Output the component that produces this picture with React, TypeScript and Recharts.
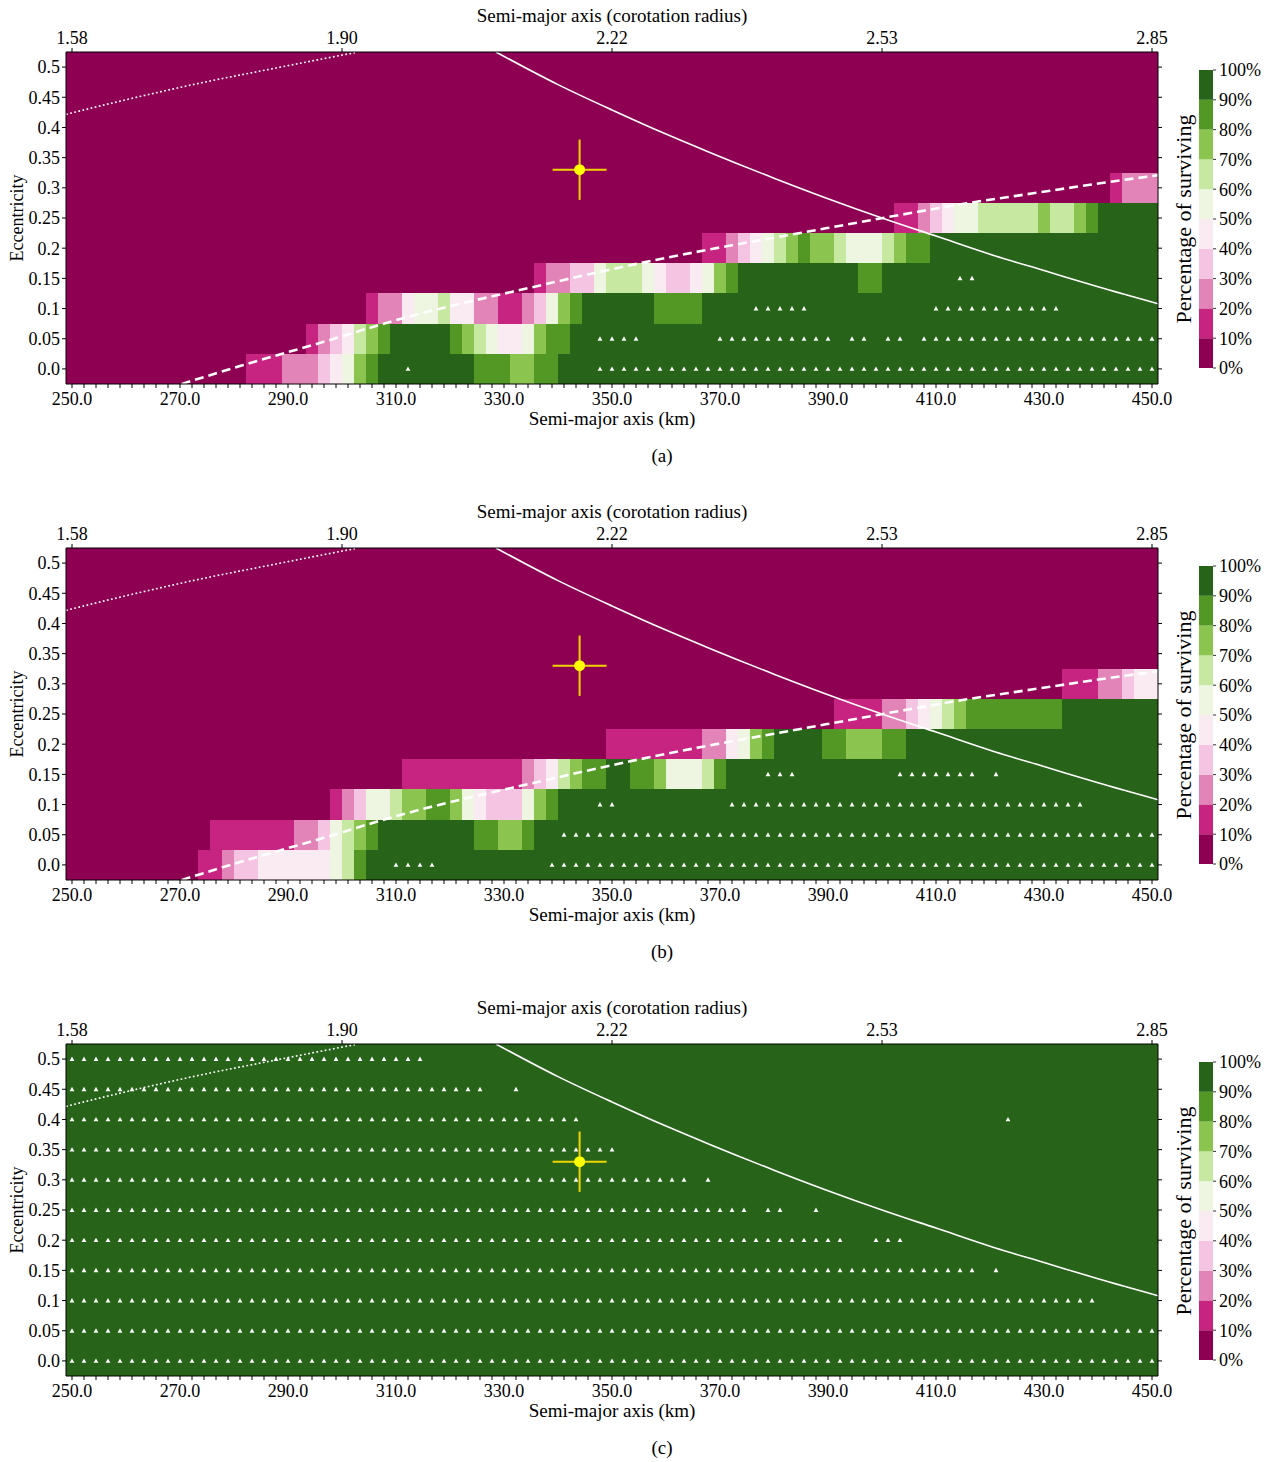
import React from 'react';
import {
  ComposedChart,
  XAxis,
  YAxis,
  ReferenceArea,
  Line,
  Scatter,
  ErrorBar,
  BarChart,
  Bar,
} from 'recharts';

const FONT = '"Liberation Serif", "Times New Roman", serif';

// ---- colour levels (0-10%, 10-20%, ... 90-100%) ----
const LEVEL_COLORS = [
  '#8e0152', '#c72482', '#e284b7', '#f5c4e2', '#faeaf2',
  '#eef6e2', '#c7e8a0', '#8cc450', '#539724', '#276419',
];
const COLORBAR_TICKS = [0, 10, 20, 30, 40, 50, 60, 70, 80, 90, 100];
const COLORBAR_LABELS = ['0%', '10%', '20%', '30%', '40%', '50%', '60%', '70%', '80%', '90%', '100%'];

// ---- grid ----
const A_FIRST = 250;
const A_LAST = 450;
const N_COLS = 91;
const ECC_ROWS = [0, 0.05, 0.1, 0.15, 0.2, 0.25, 0.3, 0.35, 0.4, 0.45, 0.5];
const ECC_LABELS = ['0.0', '0.05', '0.1', '0.15', '0.2', '0.25', '0.3', '0.35', '0.4', '0.45', '0.5'];
const ECC_HALF = 0.025;

const BOTTOM_TICK_VALUES = [250, 270, 290, 310, 330, 350, 370, 390, 410, 430, 450];
const BOTTOM_TICK_LABELS = ['250.0', '270.0', '290.0', '310.0', '330.0', '350.0', '370.0', '390.0', '410.0', '430.0', '450.0'];
const TOP_TICK_VALUES = [250, 300, 350, 400, 450];
const TOP_TICK_LABELS = ['1.58', '1.90', '2.22', '2.53', '2.85'];

// ---- cell levels, run-length per eccentricity row (bottom row first): [level, number of columns] ----
const PANEL_A_RUNS: number[][][] = [
  [[0, 15], [1, 3], [2, 3], [3, 1], [4, 1], [5, 1], [7, 1], [8, 1], [9, 8], [8, 3], [7, 2], [8, 2], [9, 50]],
  [[0, 20], [1, 1], [2, 1], [3, 1], [4, 1], [6, 1], [7, 1], [8, 1], [9, 5], [8, 1], [7, 1], [6, 1], [5, 1], [4, 2], [5, 1], [7, 1], [8, 2], [9, 49]],
  [[0, 25], [1, 1], [2, 2], [4, 1], [5, 2], [6, 1], [4, 2], [2, 2], [1, 2], [2, 1], [3, 1], [5, 1], [7, 1], [8, 1], [9, 6], [8, 4], [9, 38]],
  [[0, 39], [1, 1], [2, 2], [3, 2], [5, 1], [6, 3], [5, 1], [4, 1], [3, 2], [4, 1], [5, 1], [7, 1], [8, 1], [9, 10], [8, 2], [9, 23]],
  [[0, 53], [1, 2], [2, 1], [3, 1], [4, 1], [5, 1], [6, 1], [7, 1], [8, 1], [7, 2], [6, 1], [5, 3], [6, 1], [7, 1], [8, 2], [9, 19]],
  [[0, 69], [1, 2], [2, 1], [3, 1], [4, 1], [5, 2], [6, 5], [7, 1], [6, 2], [7, 1], [8, 1], [9, 5]],
  [[0, 87], [1, 1], [2, 3]],
  [[0, 91]],
  [[0, 91]],
  [[0, 91]],
  [[0, 91]],
];

const PANEL_B_RUNS: number[][][] = [
  [[0, 11], [1, 2], [2, 1], [3, 2], [4, 6], [5, 1], [6, 1], [8, 1], [9, 66]],
  [[0, 12], [1, 7], [2, 2], [3, 1], [5, 1], [6, 1], [7, 1], [8, 1], [9, 8], [8, 2], [7, 2], [8, 1], [9, 52]],
  [[0, 22], [1, 1], [2, 1], [3, 1], [5, 2], [6, 1], [7, 2], [8, 2], [7, 1], [5, 1], [4, 1], [3, 3], [5, 1], [7, 1], [8, 1], [9, 50]],
  [[0, 28], [1, 10], [2, 1], [3, 1], [4, 1], [6, 1], [7, 1], [8, 2], [9, 2], [8, 2], [7, 1], [5, 3], [6, 1], [8, 1], [9, 36]],
  [[0, 45], [1, 8], [2, 2], [4, 1], [5, 1], [7, 1], [8, 1], [9, 4], [8, 2], [7, 3], [8, 2], [9, 21]],
  [[0, 64], [1, 4], [2, 2], [3, 1], [4, 1], [5, 1], [6, 1], [7, 1], [8, 8], [9, 8]],
  [[0, 83], [1, 3], [2, 2], [3, 1], [4, 2]],
  [[0, 91]],
  [[0, 91]],
  [[0, 91]],
  [[0, 91]],
];

const PANEL_C_RUNS: number[][][] = [
  [[9, 91]], [[9, 91]], [[9, 91]], [[9, 91]], [[9, 91]], [[9, 91]],
  [[9, 91]], [[9, 91]], [[9, 91]], [[9, 91]], [[9, 91]],
];

// ---- triangle markers: column ranges per row (bottom row first) ----
const PANEL_A_TRI = ['28,44-90', '44-47,54-63,65-66,68-69,71-90', '57-61,72-82', '74-75', '', '', '', '', '', '', ''];
const PANEL_B_TRI = ['27-30,40-90', '41-90', '44-45,55-84', '58-60,69-75,77', '', '', '', '', '', '', ''];
const PANEL_C_TRI = ['0-90', '0-90', '0-85', '0-75,77', '0-64,67-69', '0-56,58-59,62', '0-51,53', '0-45', '0-42,78', '0-34,37', '0-29'];

// ---- curves (semi-major axis km, eccentricity) ----
const SOLID_CURVE = [
  { a: 328.5, e: 0.525 }, { a: 340, e: 0.471 }, { a: 350, e: 0.429 }, { a: 360, e: 0.389 },
  { a: 368, e: 0.359 }, { a: 380, e: 0.316 }, { a: 390, e: 0.282 }, { a: 400, e: 0.25 },
  { a: 410, e: 0.22 }, { a: 421, e: 0.187 }, { a: 430, e: 0.163 }, { a: 440, e: 0.136 },
  { a: 451.1, e: 0.108 },
];
const DASHED_CURVE = [
  { a: 270.3, e: -0.025 }, { a: 281.4, e: 0.0055 }, { a: 297.8, e: 0.048 }, { a: 308, e: 0.0757 },
  { a: 337, e: 0.139 }, { a: 354.6, e: 0.174 }, { a: 368.1, e: 0.198 }, { a: 382.9, e: 0.222 },
  { a: 403.3, e: 0.255 }, { a: 415.7, e: 0.2743 }, { a: 428, e: 0.2909 }, { a: 440.4, e: 0.3075 },
  { a: 451.2, e: 0.321 },
];
const DOTTED_CURVE = [
  { a: 248.9, e: 0.4217 }, { a: 261, e: 0.448 }, { a: 274, e: 0.474 }, { a: 287.5, e: 0.498 },
  { a: 302.4, e: 0.524 },
];
const MARKER = [{ a: 344, e: 0.33, ea: 5, ee: 0.05 }];

// ---- helpers ----
const COL_STEP = (A_LAST - A_FIRST) / (N_COLS - 1);
const colCenter = (i: number) => A_FIRST + i * COL_STEP;
const colEdge = (i: number) => A_FIRST + (i - 0.5) * COL_STEP;
const CELL_CENTERS = Array.from({ length: N_COLS }, (_, i) => colCenter(i));
const X_DOMAIN = [colEdge(0), colEdge(N_COLS)];
const Y_DOMAIN = [ECC_ROWS[0] - ECC_HALF, ECC_ROWS[ECC_ROWS.length - 1] + ECC_HALF];

function parseRanges(s: string): number[] {
  if (!s) return [];
  const out: number[] = [];
  s.split(',').forEach((part) => {
    const [p, q] = part.split('-').map(Number);
    const end = q === undefined || isNaN(q) ? p : q;
    for (let i = p; i <= end; i++) out.push(i);
  });
  return out;
}

function buildCells(runs: number[][][]) {
  const cells: { x1: number; x2: number; y1: number; y2: number; fill: string }[] = [];
  runs.forEach((row, r) => {
    let col = 0;
    row.forEach(([lvl, n]) => {
      cells.push({
        x1: colEdge(col),
        x2: colEdge(col + n),
        y1: ECC_ROWS[r] - ECC_HALF,
        y2: ECC_ROWS[r] + ECC_HALF,
        fill: LEVEL_COLORS[lvl],
      });
      col += n;
    });
  });
  return cells;
}

function buildTriangles(tri: string[]) {
  const pts: { a: number; e: number }[] = [];
  tri.forEach((s, r) => {
    parseRanges(s).forEach((c) => pts.push({ a: colCenter(c), e: ECC_ROWS[r] }));
  });
  return pts;
}

const bottomFmt = (v: number) => {
  const k = BOTTOM_TICK_VALUES.findIndex((t) => Math.abs(t - v) < 0.01);
  return k >= 0 ? BOTTOM_TICK_LABELS[k] : '';
};
const topFmt = (v: number) => {
  const k = TOP_TICK_VALUES.findIndex((t) => Math.abs(t - v) < 0.01);
  return k >= 0 ? TOP_TICK_LABELS[k] : '';
};
const eccFmt = (v: number) => {
  const k = ECC_ROWS.findIndex((t) => Math.abs(t - v) < 1e-6);
  return k >= 0 ? ECC_LABELS[k] : '';
};

const TriangleShape = (props: any) => {
  const { cx, cy } = props;
  if (cx == null || cy == null) return null;
  return <path d={`M${cx},${cy - 2.5} L${cx + 2.4},${cy + 1.9} L${cx - 2.4},${cy + 1.9} Z`} fill="#ffffff" />;
};
const MarkerShape = (props: any) => {
  const { cx, cy } = props;
  if (cx == null || cy == null) return null;
  return <circle cx={cx} cy={cy} r={5.5} fill="#ffff00" />;
};

const Txt = ({ x, y, size = 18, rotate = 0, children }: any) => (
  <div
    style={{
      position: 'absolute',
      left: x,
      top: y,
      transform: `translate(-50%, -50%) rotate(${rotate}deg)`,
      fontFamily: FONT,
      fontSize: size,
      lineHeight: 1,
      whiteSpace: 'nowrap',
      color: '#000',
    }}
  >
    {children}
  </div>
);

const TICK_STYLE = { fontSize: 18, fill: '#000', fontFamily: FONT };
const AXIS_LINE = { stroke: '#000', strokeWidth: 1 };

const COLORBAR_DATA = [
  COLORBAR_TICKS.slice(0, -1).reduce((o: any, t, k) => {
    o[`l${k}`] = COLORBAR_TICKS[k + 1] - t;
    return o;
  }, { name: 'cb' }),
];
const cbFmt = (v: number) => {
  const k = COLORBAR_TICKS.findIndex((t) => t === v);
  return k >= 0 ? COLORBAR_LABELS[k] : '';
};

function Colorbar() {
  return (
    <div style={{ position: 'absolute', left: 1199, top: 60 }}>
      <BarChart
        width={74}
        height={318}
        data={COLORBAR_DATA}
        margin={{ top: 10, bottom: 10, left: 0, right: 0 }}
        barCategoryGap={0}
      >
        <XAxis dataKey="name" type="category" hide />
        <YAxis
          orientation="right"
          type="number"
          domain={[0, 100]}
          allowDataOverflow
          ticks={COLORBAR_TICKS}
          interval={0}
          tickFormatter={cbFmt}
          width={60}
          tickSize={3}
          tickMargin={3}
          axisLine={false}
          tickLine={{ stroke: '#333' }}
          tick={TICK_STYLE}
        />
        {LEVEL_COLORS.map((c, k) => (
          <Bar key={k} dataKey={`l${k}`} stackId="cb" fill={c} stroke="none" isAnimationActive={false} />
        ))}
      </BarChart>
    </div>
  );
}

function Panel({ top, runs, tri, dashed, caption }: any) {
  const cells = buildCells(runs);
  const tris = buildTriangles(tri);
  const bgLevel = runs[runs.length - 1][0][0];
  return (
    <div style={{ position: 'absolute', left: 0, top, width: 1282, height: 496 }}>
      <ComposedChart width={1282} height={496} margin={{ top: 22, right: 114, bottom: 82, left: 6 }}>
        <ReferenceArea
          xAxisId="bottom"
          yAxisId="left"
          x1={X_DOMAIN[0]}
          x2={X_DOMAIN[1]}
          y1={Y_DOMAIN[0]}
          y2={Y_DOMAIN[1]}
          fill={LEVEL_COLORS[bgLevel]}
          fillOpacity={1}
          stroke="none"
          ifOverflow="visible"
        />
        {cells.map((c, i) => (
          <ReferenceArea
            key={i}
            xAxisId="bottom"
            yAxisId="left"
            x1={c.x1}
            x2={c.x2}
            y1={c.y1}
            y2={c.y2}
            fill={c.fill}
            fillOpacity={1}
            stroke="none"
            ifOverflow="visible"
            shapeRendering="crispEdges"
          />
        ))}
        <Scatter
          xAxisId="bottom"
          yAxisId="left"
          data={tris}
          shape={TriangleShape}
          isAnimationActive={false}
        />
        <Line
          xAxisId="bottom"
          yAxisId="left"
          data={DOTTED_CURVE}
          dataKey="e"
          type="monotone"
          stroke="#ffffff"
          strokeWidth={1.6}
          strokeDasharray="1.8 2.4"
          dot={false}
          activeDot={false}
          isAnimationActive={false}
        />
        <Line
          xAxisId="bottom"
          yAxisId="left"
          data={SOLID_CURVE}
          dataKey="e"
          type="monotone"
          stroke="#ffffff"
          strokeWidth={1.6}
          dot={false}
          activeDot={false}
          isAnimationActive={false}
        />
        {dashed && (
          <Line
            xAxisId="bottom"
            yAxisId="left"
            data={DASHED_CURVE}
            dataKey="e"
            type="monotone"
            stroke="#ffffff"
            strokeWidth={2.6}
            strokeDasharray="9 5"
            dot={false}
            activeDot={false}
            isAnimationActive={false}
          />
        )}
        <Scatter
          xAxisId="bottom"
          yAxisId="left"
          data={MARKER}
          shape={MarkerShape}
          isAnimationActive={false}
        >
          <ErrorBar dataKey="ea" direction="x" width={0} stroke="#f0d400" strokeWidth={2} />
          <ErrorBar dataKey="ee" direction="y" width={0} stroke="#f0d400" strokeWidth={2} />
        </Scatter>
        <XAxis
          xAxisId="bottom"
          dataKey="a"
          type="number"
          domain={X_DOMAIN}
          allowDataOverflow
          ticks={CELL_CENTERS}
          interval={0}
          tickFormatter={bottomFmt}
          tickSize={4}
          tickMargin={4}
          height={30}
          tick={TICK_STYLE}
          axisLine={AXIS_LINE}
          tickLine={AXIS_LINE}
        />
        <XAxis
          xAxisId="top"
          orientation="top"
          dataKey="a"
          type="number"
          domain={X_DOMAIN}
          allowDataOverflow
          ticks={TOP_TICK_VALUES}
          interval={0}
          tickFormatter={topFmt}
          tickSize={4}
          tickMargin={4}
          height={30}
          tick={TICK_STYLE}
          axisLine={AXIS_LINE}
          tickLine={AXIS_LINE}
        />
        <YAxis
          yAxisId="left"
          dataKey="e"
          type="number"
          domain={Y_DOMAIN}
          allowDataOverflow
          ticks={ECC_ROWS}
          interval={0}
          tickFormatter={eccFmt}
          width={60}
          tickSize={4}
          tickMargin={2}
          tick={TICK_STYLE}
          axisLine={AXIS_LINE}
          tickLine={AXIS_LINE}
        />
        <YAxis
          yAxisId="right"
          orientation="right"
          dataKey="e"
          type="number"
          domain={Y_DOMAIN}
          allowDataOverflow
          ticks={ECC_ROWS}
          interval={0}
          tickFormatter={() => ''}
          width={10}
          tickSize={4}
          tick={TICK_STYLE}
          axisLine={AXIS_LINE}
          tickLine={AXIS_LINE}
        />
      </ComposedChart>
      <Txt x={612} y={15} size={19}>Semi-major axis (corotation radius)</Txt>
      <Txt x={612} y={418} size={19}>Semi-major axis (km)</Txt>
      <Txt x={17} y={218} size={18} rotate={-90}>Eccentricity</Txt>
      <Txt x={1184} y={219} size={22} rotate={-90}>Percentage of surviving</Txt>
      <Txt x={662} y={455} size={19}>{caption}</Txt>
      <Colorbar />
    </div>
  );
}

export default function App() {
  return (
    <div style={{ position: 'absolute', left: 0, top: 0, width: 1282, height: 1462, background: '#fff' }}>
      <Panel top={0} runs={PANEL_A_RUNS} tri={PANEL_A_TRI} dashed caption="(a)" />
      <Panel top={496} runs={PANEL_B_RUNS} tri={PANEL_B_TRI} dashed caption="(b)" />
      <Panel top={992} runs={PANEL_C_RUNS} tri={PANEL_C_TRI} dashed={false} caption="(c)" />
    </div>
  );
}
